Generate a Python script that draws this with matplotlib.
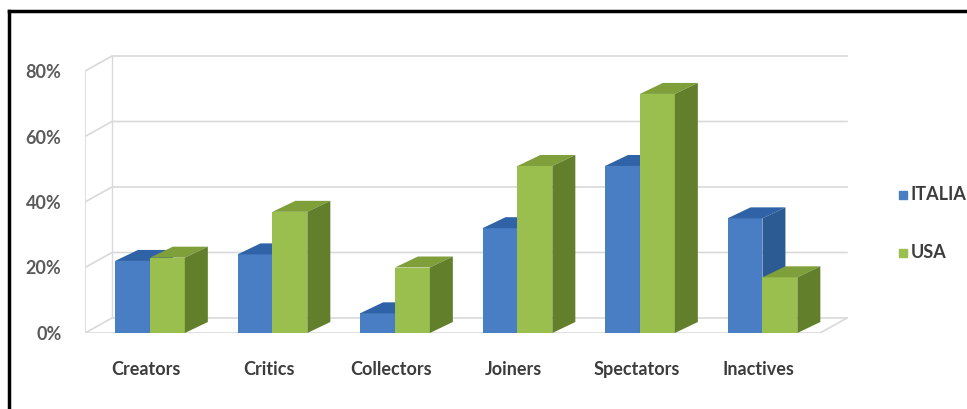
import matplotlib
matplotlib.use("Agg")
import matplotlib.pyplot as plt
from matplotlib.patches import Rectangle
from matplotlib.lines import Line2D

plt.rcParams["font.family"] = ["Lato", "DejaVu Sans"]

# Social Technographics profile, % of online adults
categories = ["Creators", "Critics", "Collectors", "Joiners", "Spectators", "Inactives"]
italia = [22, 24, 6, 32, 51, 35]
usa = [23, 37, 20, 51, 73, 17]
series_names = ["ITALIA", "USA"]
yticks = [0, 20, 40, 60, 80]
ytick_labels = ["0%", "20%", "40%", "60%", "80%"]

# face colours: front, top, side
blue = ("#4a7ec4", "#2f62a6", "#2c5a92")
green = ("#9bbf4f", "#7e9f3a", "#627f2b")
grid_col = "#d9d9d9"
text_col = "#3c3c3c"

W, H = 967, 409
fig = plt.figure(figsize=(W / 100, H / 100), dpi=100)

# axes placed in pixels: front plane x=-0.5 at 85px, 5.5 at 820px; y 0 at 333px, 80 at 71px
px_per_cat = (820 - 85) / 6
px_per_pct = (333 - 71) / 80
ax_left, ax_right, ax_top, ax_bot = 85, 852, 48, 333
ax = fig.add_axes([ax_left / W, (H - ax_bot) / H, (ax_right - ax_left) / W, (ax_bot - ax_top) / H])
ax.set_xlim(-0.5, -0.5 + (ax_right - ax_left) / px_per_cat)
ax.set_ylim(0, (ax_bot - ax_top) / px_per_pct)

# depth of the back wall and of the bars, in data units
DX, DY = 27 / px_per_cat, 15 / px_per_pct
BDX, BDY = 23 / px_per_cat, 11 / px_per_pct

# walls and floor
x0, x1 = -0.5, 5.5
for v in yticks:
    ax.plot([x0, x0 + DX, x1 + DX], [v, v + DY, v + DY], color=grid_col, lw=1.2, zorder=1)
ax.plot([x0, x0], [0, yticks[-1]], color=grid_col, lw=1.2, zorder=1)
ax.plot([x0 + DX, x0 + DX], [DY, yticks[-1] + DY], color=grid_col, lw=1.0, zorder=1)
ax.plot([x0, x1, x1 + DX], [0, 0, DY], color=grid_col, lw=1.2, zorder=1)


def bar3d(x, h, w, cols, z):
    front, top, side = cols
    ax.bar(x, h, w, align="edge", color=front, edgecolor="none", zorder=z)
    ax.fill([x, x + w, x + w + BDX, x + BDX], [h, h, h + BDY, h + BDY],
            color=top, edgecolor="none", zorder=z)
    ax.fill([x + w, x + w + BDX, x + w + BDX, x + w], [0, BDY, h + BDY, h],
            color=side, edgecolor="none", zorder=z)


bw = 0.285
for i in range(len(categories)):
    c = i + 0.03
    bar3d(c - bw, italia[i], bw, blue, 2 + i * 2)
    bar3d(c, usa[i], bw, green, 3 + i * 2)

for s in ax.spines.values():
    s.set_visible(False)
ax.set_yticks(yticks)
ax.set_yticklabels(ytick_labels, fontweight="bold")
ax.set_xticks(range(len(categories)))
ax.set_xticklabels(categories, fontweight="bold")
ax.tick_params(axis="y", length=0, pad=17, labelsize=13, labelcolor="#5a5a5a")
ax.tick_params(axis="x", length=0, pad=20, labelsize=13, labelcolor=text_col)

# legend
for name, col, yy in zip(series_names, [blue[0], green[0]], [195, 253]):
    fig.patches.append(Rectangle((899 / W, (H - yy - 4) / H), 8 / W, 8 / H,
                                 transform=fig.transFigure, color=col))
    fig.text(911 / W, (H - yy) / H, name, fontsize=13, fontweight="bold",
             color=text_col, va="center")

# frame lines (top and left)
fig.add_artist(Line2D([9 / W, 1], [(H - 11) / H] * 2, color="black", lw=2.5))
fig.add_artist(Line2D([9 / W] * 2, [0, (H - 11) / H], color="black", lw=2.5))

fig.savefig("out.png", dpi=100)
